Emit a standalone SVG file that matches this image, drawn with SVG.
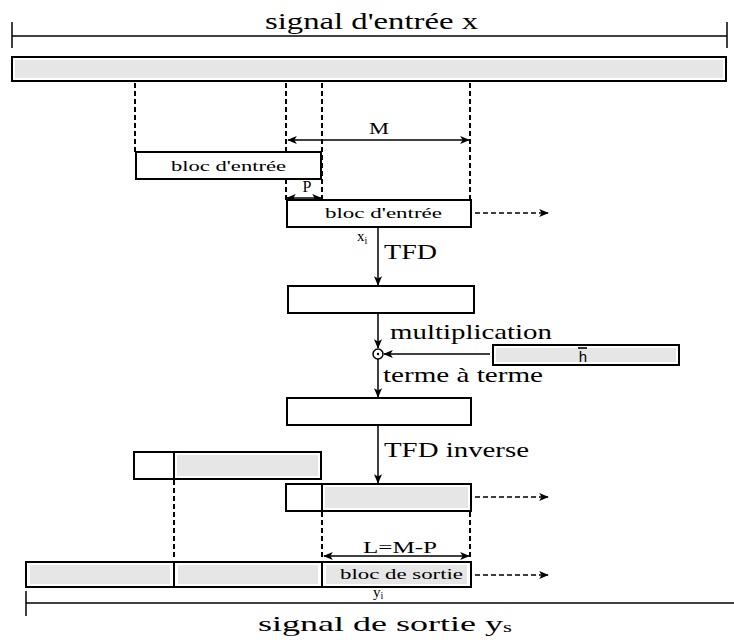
<svg xmlns="http://www.w3.org/2000/svg" width="734" height="640" viewBox="0 0 734 640">
  <style>
    .t { font-family: "Liberation Serif", "Times New Roman", serif; fill: #000; }
    .box { fill: #fff; stroke: #000; stroke-width: 2; }
    .shade { fill: #e6e6e6; stroke: none; }
    .ln { stroke: #000; stroke-width: 1.5; fill: none; }
    .dash { stroke: #000; stroke-width: 2; stroke-dasharray: 5 3; fill: none; }
    .dash1 { stroke: #000; stroke-width: 1.3; stroke-dasharray: 5 3; fill: none; }
  </style>
  <defs>
    <marker id="ah" viewBox="0 0 12 10" refX="11" refY="5" markerWidth="10" markerHeight="8" markerUnits="userSpaceOnUse" orient="auto-start-reverse">
      <path d="M0,0 L12,5 L0,10 L3,5 Z" fill="#000"/>
    </marker>
  </defs>

  <!-- input signal -->
  <g id="input-signal">
    <line class="ln" x1="12" y1="36" x2="727" y2="36" stroke-width="2"/>
    <line class="ln" x1="12" y1="22" x2="12" y2="48" stroke-width="2"/>
    <line class="ln" x1="727" y1="22" x2="727" y2="48" stroke-width="2"/>
    <text class="t" x="265" y="29" font-size="24" textLength="213" lengthAdjust="spacingAndGlyphs">signal d'entrée x</text>
    <rect class="box" x="12" y="57" width="714" height="24" stroke-width="3"/>
    <rect class="shade" x="15" y="60" width="708" height="18"/>
  </g>

  <!-- guides and dimensions -->
  <g id="connectors">
    <line class="dash" x1="135" y1="83" x2="135" y2="152"/>
    <line class="dash" x1="286" y1="83" x2="286" y2="200"/>
    <line class="dash" x1="322" y1="83" x2="322" y2="200"/>
    <line class="dash" x1="470" y1="83" x2="470" y2="200"/>
    <line class="ln" x1="288" y1="140" x2="469" y2="140" marker-start="url(#ah)" marker-end="url(#ah)"/>
    <line class="ln" x1="287" y1="198" x2="321" y2="198" marker-start="url(#ah)" marker-end="url(#ah)"/>
    <line class="dash1" x1="475" y1="213" x2="548" y2="213" marker-end="url(#ah)"/>
    <line class="ln" x1="378" y1="228" x2="378" y2="285" marker-end="url(#ah)"/>
    <line class="ln" x1="378" y1="313" x2="378" y2="348" marker-end="url(#ah)"/>
    <line class="ln" x1="490" y1="354" x2="384" y2="354" marker-end="url(#ah)"/>
    <line class="ln" x1="378" y1="359" x2="378" y2="397" marker-end="url(#ah)"/>
    <line class="ln" x1="378" y1="425" x2="378" y2="483" marker-end="url(#ah)"/>
    <line class="dash1" x1="475" y1="497" x2="548" y2="497" marker-end="url(#ah)"/>
    <line class="dash" x1="174" y1="480" x2="174" y2="560"/>
    <line class="dash" x1="322" y1="512" x2="322" y2="560"/>
    <line class="dash" x1="470" y1="512" x2="470" y2="560"/>
    <line class="ln" x1="324" y1="556" x2="469" y2="556" marker-start="url(#ah)" marker-end="url(#ah)"/>
    <line class="dash1" x1="475" y1="575" x2="548" y2="575" marker-end="url(#ah)"/>
  </g>

  <g id="label-M"><text class="t" x="369" y="134" font-size="16" textLength="20" lengthAdjust="spacingAndGlyphs">M</text></g>
  <g id="label-P"><text class="t" x="307" y="192" font-size="16" text-anchor="middle">P</text></g>

  <!-- input blocks -->
  <g id="block-in-prev">
    <rect class="box" x="136" y="152" width="185" height="27"/>
    <text class="t" x="171" y="171" font-size="15" textLength="115" lengthAdjust="spacingAndGlyphs">bloc d'entrée</text>
  </g>
  <g id="block-in">
    <rect class="box" x="287" y="200" width="184" height="27"/>
    <text class="t" x="325" y="218" font-size="15" textLength="117" lengthAdjust="spacingAndGlyphs">bloc d'entrée</text>
    <text class="t" x="357" y="241" font-size="15">x<tspan font-size="10" dy="3">i</tspan></text>
  </g>
  <g id="label-tfd"><text class="t" x="384" y="259" font-size="21" textLength="53" lengthAdjust="spacingAndGlyphs">TFD</text></g>

  <!-- spectrum block -->
  <g id="block-spectrum">
    <rect class="box" x="288" y="286" width="186" height="27"/>
  </g>
  <g id="label-mult"><text class="t" x="390" y="339" font-size="21" textLength="162" lengthAdjust="spacingAndGlyphs">multiplication</text></g>

  <!-- term-by-term product -->
  <g id="product">
    <circle cx="378" cy="354" r="5" fill="#fff" stroke="#000" stroke-width="1.5"/>
    <circle cx="378" cy="354" r="1.2" fill="#000"/>
  </g>
  <g id="block-h">
    <rect class="box" x="493" y="345" width="186" height="20"/>
    <rect class="shade" x="496" y="348" width="180" height="14"/>
    <text x="583" y="362" font-size="15" font-family="Liberation Sans, Arial, sans-serif" text-anchor="middle">h</text>
    <line x1="578" y1="348" x2="587" y2="348" stroke="#000" stroke-width="1.6"/>
  </g>
  <g id="label-terme"><text class="t" x="383" y="382" font-size="21" textLength="160" lengthAdjust="spacingAndGlyphs">terme à terme</text></g>

  <!-- product block -->
  <g id="block-product">
    <rect class="box" x="287" y="398" width="184" height="27"/>
  </g>
  <g id="label-itfd"><text class="t" x="384" y="457" font-size="21" textLength="145" lengthAdjust="spacingAndGlyphs">TFD inverse</text></g>

  <!-- inverse transform blocks -->
  <g id="block-out-prev">
    <rect class="box" x="134" y="452" width="187" height="27"/>
    <rect class="shade" x="177" y="455" width="141" height="21"/>
    <line x1="174" y1="452" x2="174" y2="479" stroke="#000" stroke-width="2"/>
  </g>
  <g id="block-out">
    <rect class="box" x="286" y="484" width="185" height="27"/>
    <rect class="shade" x="325" y="487" width="143" height="21"/>
    <line x1="322" y1="484" x2="322" y2="511" stroke="#000" stroke-width="2"/>
  </g>
  <g id="label-L"><text class="t" x="363" y="553" font-size="16" textLength="74" lengthAdjust="spacingAndGlyphs">L=M-P</text></g>

  <!-- output signal -->
  <g id="output-signal">
    <rect class="box" x="26" y="562" width="445" height="25"/>
    <rect class="shade" x="30" y="565" width="140" height="19"/>
    <rect class="shade" x="178" y="565" width="140" height="19"/>
    <rect class="shade" x="326" y="565" width="141" height="19"/>
    <line x1="174" y1="562" x2="174" y2="587" stroke="#000" stroke-width="2"/>
    <line x1="322" y1="562" x2="322" y2="587" stroke="#000" stroke-width="2"/>
    <text class="t" x="340" y="579" font-size="15" textLength="123" lengthAdjust="spacingAndGlyphs">bloc de sortie</text>
    <text class="t" x="373" y="597" font-size="15">y<tspan font-size="10" dy="2">i</tspan></text>
    <line class="ln" x1="26" y1="603" x2="734" y2="603" stroke-width="2.5"/>
    <line class="ln" x1="26" y1="591" x2="26" y2="616" stroke-width="2"/>
    <text class="t" x="258" y="631" font-size="22" textLength="254" lengthAdjust="spacingAndGlyphs">signal de sortie y<tspan font-size="14" dy="1">s</tspan></text>
  </g>
</svg>
